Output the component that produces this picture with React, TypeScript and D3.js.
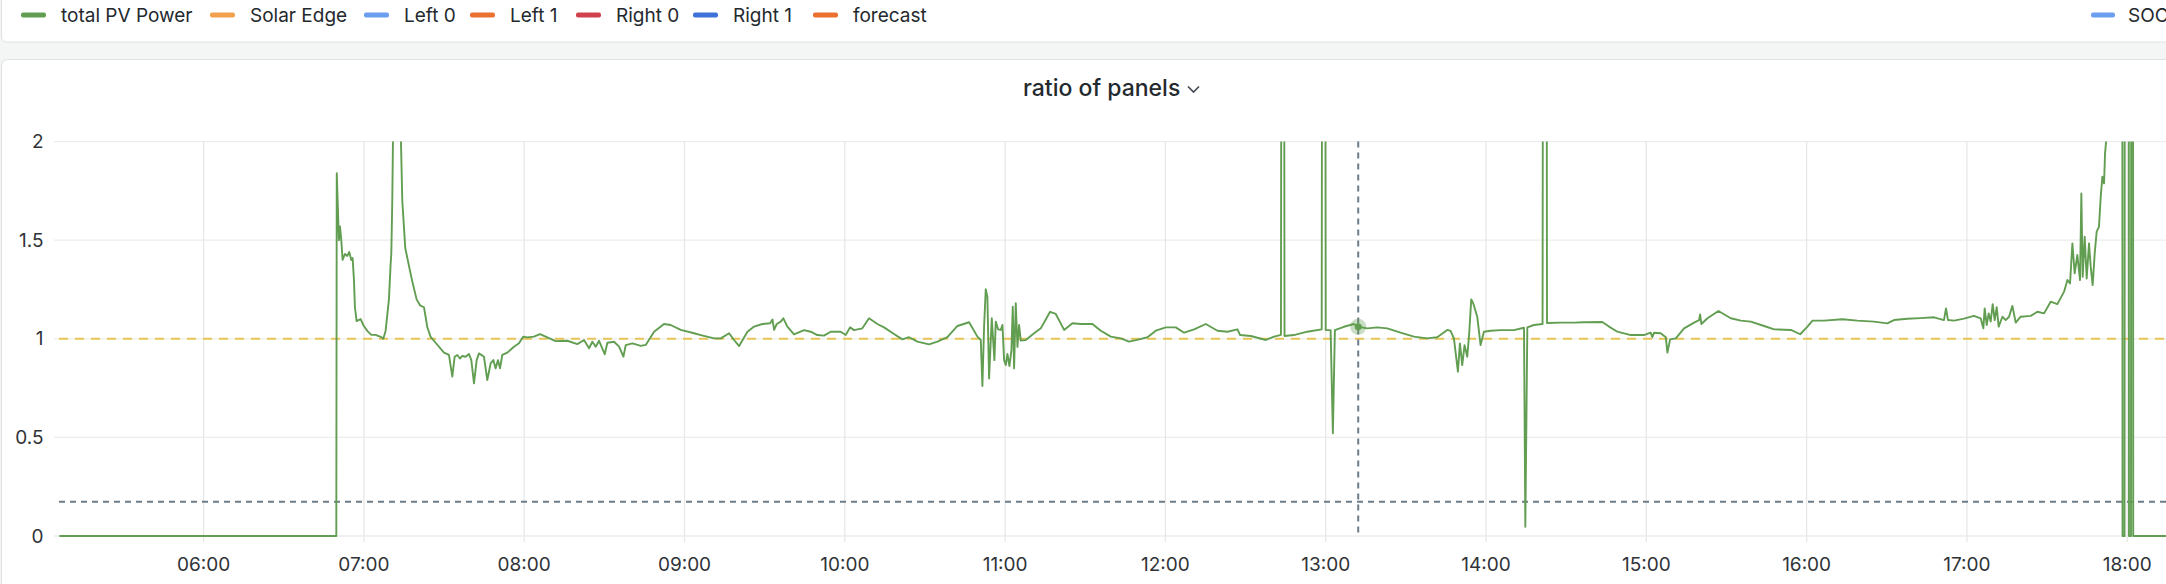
import { useMemo } from "react";
import * as d3 from "d3";

// legend of the dashboard row above the panel
const legendNames = ["total PV Power", "Solar Edge", "Left 0", "Left 1", "Right 0", "Right 1", "forecast"];
const legendColors = ["#629e51", "#f2a14f", "#6c9ef0", "#ea7231", "#d1414d", "#3f72d8", "#eb7030"];
const legendX = [21, 210, 364, 470, 576, 693, 813];
const socLegend = { name: "SOC", color: "#6c9ef0", x: 2091 };

const yTicks = [0, 0.5, 1, 1.5, 2];
const thresholds = [
  { value: 1, color: "#e8c457", dash: "9 7" },
  { value: 0.174, color: "#6c7c89", dash: "6 5" },
];
const hoverTime = "13:12:10";
const hoverValue = 1.061;

// total PV power ratio (panel left/right)
const ratioOfPanels: [string, number][] = [
  ["05:06:00", 0], ["06:49:40", 0], ["06:49:50", 1.84], ["06:50:39", 1.5], ["06:51:02", 1.57], ["06:51:32", 1.5],
  ["06:52:01", 1.4], ["06:52:54", 1.43], ["06:53:46", 1.42], ["06:54:31", 1.44], ["06:55:16", 1.4], ["06:55:46", 1.41],
  ["06:56:16", 1.3], ["06:56:38", 1.16], ["06:57:16", 1.09], ["06:58:46", 1.1], ["06:59:46", 1.07], ["07:01:16", 1.04],
  ["07:02:46", 1.02], ["07:04:23", 1.02], ["07:06:15", 1.01], ["07:07:15", 1.0], ["07:08:07", 1.04], ["07:09:22", 1.2],
  ["07:10:00", 1.38], ["07:10:15", 1.43], ["07:10:37", 1.7], ["07:10:52", 2.0], ["07:12:00", 2.8], ["07:13:52", 2.0],
  ["07:14:22", 1.7], ["07:15:29", 1.46], ["07:16:52", 1.37], ["07:18:07", 1.29], ["07:19:44", 1.2], ["07:20:59", 1.17],
  ["07:22:29", 1.16], ["07:23:43", 1.06], ["07:24:58", 1.01], ["07:26:50", 0.98], ["07:29:58", 0.93], ["07:31:50", 0.918],
  ["07:33:05", 0.808], ["07:33:58", 0.909], ["07:34:58", 0.918], ["07:35:57", 0.9], ["07:36:50", 0.913], ["07:38:05", 0.909],
  ["07:39:19", 0.923], ["07:40:12", 0.892], ["07:41:12", 0.774], ["07:42:12", 0.892], ["07:43:05", 0.926], ["07:44:56", 0.909],
  ["07:46:11", 0.791], ["07:47:26", 0.875], ["07:48:26", 0.892], ["07:49:18", 0.85], ["07:50:11", 0.892], ["07:50:56", 0.85],
  ["07:51:48", 0.918], ["07:53:40", 0.93], ["07:56:10", 0.96], ["07:58:02", 0.977], ["07:59:39", 1.011], ["08:01:09", 1.007],
  ["08:03:39", 1.011], ["08:05:54", 1.024], ["08:08:39", 1.007], ["08:11:46", 0.988], ["08:16:08", 0.99], ["08:19:53", 0.973],
  ["08:22:23", 0.994], ["08:24:16", 0.952], ["08:25:31", 0.985], ["08:26:46", 0.96], ["08:28:01", 0.99], ["08:30:08", 0.922],
  ["08:31:08", 0.98], ["08:33:38", 0.985], ["08:35:30", 0.96], ["08:37:08", 0.909], ["08:38:00", 0.968], ["08:40:30", 0.977],
  ["08:43:37", 0.964], ["08:45:29", 0.969], ["08:48:36", 1.036], ["08:52:20", 1.075], ["08:54:50", 1.07], ["08:58:35", 1.045],
  ["09:03:35", 1.028], ["09:06:05", 1.019], ["09:11:05", 1.002], ["09:13:34", 1.002], ["09:16:41", 1.028], ["09:18:33", 0.994],
  ["09:20:26", 0.963], ["09:23:33", 1.036], ["09:26:03", 1.062], ["09:29:10", 1.075], ["09:32:02", 1.079], ["09:32:55", 1.098],
  ["09:33:32", 1.045], ["09:34:31", 1.075], ["09:36:00", 1.087], ["09:37:00", 1.104], ["09:38:30", 1.062], ["09:41:00", 1.022],
  ["09:44:44", 1.044], ["09:47:14", 1.036], ["09:49:44", 1.019], ["09:52:13", 1.016], ["09:54:43", 1.036], ["09:58:28", 1.036],
  ["10:00:20", 1.019], ["10:01:58", 1.058], ["10:03:27", 1.044], ["10:06:34", 1.053], ["10:09:04", 1.104], ["10:12:11", 1.075],
  ["10:14:41", 1.058], ["10:18:25", 1.024], ["10:21:33", 0.997], ["10:24:02", 1.008], ["10:27:10", 0.986], ["10:31:32", 0.972],
  ["10:34:39", 0.986], ["10:38:24", 1.008], ["10:42:09", 1.065], ["10:46:31", 1.084], ["10:49:38", 1.011], ["10:50:53", 0.994],
  ["10:51:30", 0.761], ["10:52:08", 1.062], ["10:52:45", 1.251], ["10:53:22", 1.214], ["10:54:00", 0.799], ["10:55:00", 1.104],
  ["10:56:00", 0.892], ["10:56:30", 1.087], ["10:57:22", 1.048], ["10:58:22", 1.045], ["10:59:00", 1.07], ["10:59:37", 0.892],
  ["11:00:15", 0.867], ["11:00:52", 0.923], ["11:01:37", 0.862], ["11:02:22", 0.943], ["11:02:52", 1.163], ["11:03:22", 0.85],
  ["11:03:59", 1.18], ["11:04:37", 0.959], ["11:05:14", 1.07], ["11:05:52", 0.991], ["11:07:44", 0.994], ["11:10:51", 1.028],
  ["11:13:21", 1.053], ["11:16:50", 1.137], ["11:18:58", 1.126], ["11:22:05", 1.045], ["11:25:12", 1.079], ["11:28:19", 1.075],
  ["11:32:41", 1.075], ["11:35:49", 1.041], ["11:39:34", 1.011], ["11:43:18", 1.002], ["11:46:25", 0.986], ["11:50:10", 0.997],
  ["11:53:17", 1.008], ["11:56:24", 1.041], ["12:00:08", 1.058], ["12:03:53", 1.058], ["12:07:00", 1.031], ["12:10:45", 1.048],
  ["12:15:07", 1.075], ["12:19:29", 1.041], ["12:23:14", 1.036], ["12:26:58", 1.048], ["12:27:58", 1.019], ["12:31:58", 1.014],
  ["12:37:35", 0.994], ["12:40:42", 1.011], ["12:43:15", 1.02], ["12:43:25", 3], ["12:44:25", 3], ["12:44:35", 1.014],
  ["12:48:05", 1.019], ["12:53:05", 1.036], ["12:58:30", 1.048], ["12:58:40", 3], ["12:59:50", 3], ["13:00:00", 1.044],
  ["13:01:50", 1.044], ["13:02:41", 0.521], ["13:03:26", 1.044], ["13:06:48", 1.061], ["13:10:32", 1.075], ["13:12:10", 1.061],
  ["13:15:32", 1.053], ["13:19:17", 1.058], ["13:23:01", 1.053], ["13:28:01", 1.031], ["13:33:00", 1.011], ["13:38:00", 1.002],
  ["13:41:44", 1.008], ["13:45:29", 1.045], ["13:46:44", 1.04], ["13:47:59", 1.002], ["13:49:29", 0.833], ["13:50:14", 0.977],
  ["13:51:06", 0.867], ["13:51:58", 0.968], ["13:52:58", 0.909], ["13:53:43", 1.028], ["13:54:28", 1.2], ["13:55:13", 1.18],
  ["13:56:43", 1.112], ["13:57:58", 0.968], ["13:59:13", 1.036], ["14:01:43", 1.041], ["14:05:28", 1.044], ["14:10:28", 1.044],
  ["14:14:13", 1.056], ["14:14:43", 0.047], ["14:15:28", 1.058], ["14:17:55", 1.07], ["14:21:10", 1.075], ["14:21:20", 3],
  ["14:22:40", 3], ["14:22:50", 1.08], ["14:27:56", 1.082], ["14:32:55", 1.082], ["14:36:41", 1.084], ["14:43:32", 1.085],
  ["14:46:02", 1.062], ["14:49:10", 1.036], ["14:54:10", 1.019], ["14:59:07", 1.019], ["15:01:37", 1.031], ["15:02:16", 1.008],
  ["15:02:54", 1.031], ["15:05:24", 1.028], ["15:07:17", 1.008], ["15:07:54", 0.93], ["15:08:54", 0.997], ["15:11:01", 1.002],
  ["15:14:08", 1.053], ["15:17:53", 1.082], ["15:19:45", 1.095], ["15:20:08", 1.124], ["15:20:38", 1.075], ["15:22:53", 1.104],
  ["15:27:00", 1.141], ["15:31:37", 1.104], ["15:35:22", 1.092], ["15:39:07", 1.087], ["15:44:07", 1.065], ["15:47:52", 1.048],
  ["15:54:07", 1.045], ["15:57:35", 1.023], ["16:00:19", 1.062], ["16:02:12", 1.092], ["16:06:32", 1.092], ["16:13:24", 1.099],
  ["16:19:01", 1.092], ["16:25:12", 1.087], ["16:30:12", 1.078], ["16:32:42", 1.095], ["16:37:41", 1.102], ["16:42:41", 1.105],
  ["16:47:40", 1.109], ["16:51:25", 1.095], ["16:52:10", 1.154], ["16:52:55", 1.095], ["16:55:10", 1.092], ["16:58:55", 1.102],
  ["17:02:39", 1.116], ["17:05:09", 1.104], ["17:06:09", 1.053], ["17:06:39", 1.154], ["17:07:24", 1.07], ["17:08:09", 1.129],
  ["17:08:54", 1.087], ["17:09:39", 1.176], ["17:10:24", 1.095], ["17:11:09", 1.16], ["17:11:54", 1.062], ["17:13:17", 1.112],
  ["17:14:31", 1.095], ["17:15:46", 1.112], ["17:17:01", 1.167], ["17:18:16", 1.082], ["17:20:08", 1.112], ["17:23:53", 1.116],
  ["17:26:23", 1.137], ["17:28:52", 1.129], ["17:31:22", 1.188], ["17:33:52", 1.176], ["17:36:22", 1.239], ["17:37:37", 1.298],
  ["17:38:36", 1.281], ["17:39:29", 1.484], ["17:40:20", 1.332], ["17:41:20", 1.425], ["17:42:20", 1.298], ["17:42:50", 1.737],
  ["17:43:20", 1.315], ["17:44:05", 1.518], ["17:44:50", 1.306], ["17:45:42", 1.484], ["17:46:20", 1.366], ["17:47:04", 1.272],
  ["17:47:50", 1.433], ["17:48:34", 1.543], ["17:49:26", 1.568], ["17:50:05", 1.72], ["17:50:42", 1.822], ["17:51:20", 1.788],
  ["17:51:42", 1.94], ["17:52:06", 2.0], ["17:53:00", 2.4], ["17:58:10", 3], ["17:58:15", 0], ["17:59:00", 0],
  ["17:59:05", 3], ["18:00:35", 3], ["18:00:40", 0], ["18:01:25", 0], ["18:01:30", 3], ["18:02:10", 3],
  ["18:02:15", 0], ["18:20:00", 0],
];

const W = 2166;
const H = 584;
const plot = { left: 54, top: 141.6, bottom: 536 };
const pxPerHour = 160.3;
const font = "Inter, 'Noto Sans', sans-serif";

const parse = d3.timeParse("%H:%M:%S");

export default function App() {
  const x = useMemo(() => {
    const start = parse("05:04:00")!;
    const end = parse("18:38:00")!;
    const hours = (end.getTime() - start.getTime()) / 3.6e6;
    return d3.scaleTime().domain([start, end]).range([plot.left, plot.left + hours * pxPerHour]);
  }, []);
  const y = useMemo(() => d3.scaleLinear().domain([0, 2]).range([plot.bottom, plot.top]), []);

  const hourTicks = x.ticks(d3.timeHour.every(1)!).filter((t) => x(t) < W);
  const fmt = d3.timeFormat("%H:%M");

  const linePath = d3
    .line<[string, number]>()
    .x((d) => x(parse(d[0])!))
    .y((d) => y(d[1]))(ratioOfPanels);

  const hx = x(parse(hoverTime)!);
  const hy = y(hoverValue);

  return (
    <>
      <style>{"body{margin:0}"}</style>
      <svg width={W} height={H} style={{ display: "block", fontFamily: font }}>
        <rect width={W} height={H} fill="#f4f5f5" />

        {/* legend panel */}
        <rect x={1.5} y={-20} width={W + 20} height={62} rx={5} fill="#fff" stroke="#dfe2e3" />
        {legendNames.map((name, i) => (
          <g key={name}>
            <rect x={legendX[i]} y={12.5} width={25} height={5} rx={2} fill={legendColors[i]} />
            <text x={legendX[i] + 40} y={21.5} fontSize={19} fill="#24292e">
              {name}
            </text>
          </g>
        ))}
        <rect x={socLegend.x} y={12.5} width={24} height={5} rx={2} fill={socLegend.color} />
        <text x={socLegend.x + 37} y={21.5} fontSize={19} fill="#24292e">
          {socLegend.name}
        </text>

        {/* chart panel */}
        <rect x={1.5} y={59.5} width={W + 20} height={H} rx={6} fill="#fff" stroke="#dfe2e3" />
        <text x={1023} y={95.5} fontSize={23} fontWeight={500} fill="#24292e">
          ratio of panels
        </text>
        <path d="M1188,86.5 l5.5,5.5 l5.5,-5.5" fill="none" stroke="#464c54" strokeWidth={1.7} />

        <defs>
          <clipPath id="plot-clip">
            <rect x={plot.left} y={plot.top} width={W} height={plot.bottom - plot.top + 4} />
          </clipPath>
        </defs>

        {/* grid */}
        {yTicks.map((t) => (
          <line key={t} x1={plot.left} x2={W} y1={y(t)} y2={y(t)} stroke="#ededed" strokeWidth={1.3} />
        ))}
        {hourTicks.map((t) => (
          <line key={+t} x1={x(t)} x2={x(t)} y1={plot.top} y2={plot.bottom + 6} stroke="#e8e8e8" strokeWidth={1.3} />
        ))}

        {/* axes labels */}
        {yTicks.map((t) => (
          <text key={t} x={43.5} y={y(t)} textAnchor="end" dominantBaseline="central" fontSize={19} fill="#2f3338">
            {String(t)}
          </text>
        ))}
        {hourTicks.map((t) => (
          <text key={+t} x={x(t)} y={564} textAnchor="middle" dominantBaseline="central" fontSize={19} fill="#2f3338">
            {fmt(t)}
          </text>
        ))}

        {/* thresholds */}
        {thresholds.map((th) => (
          <line
            key={th.value}
            x1={plot.left + 5}
            x2={W}
            y1={y(th.value)}
            y2={y(th.value)}
            stroke={th.color}
            strokeWidth={2}
            strokeDasharray={th.dash}
          />
        ))}

        <g clipPath="url(#plot-clip)">
          <path d={linePath ?? ""} fill="none" stroke="#629e51" strokeWidth={1.9} strokeLinejoin="round" />
        </g>

        {/* crosshair + hovered point */}
        <line x1={hx} x2={hx} y1={plot.top} y2={plot.bottom} stroke="#6c7c89" strokeWidth={2} strokeDasharray="6 5" />
        <circle cx={hx} cy={hy} r={8} fill="#629e51" fillOpacity={0.35} />
        <circle cx={hx} cy={hy} r={3.5} fill="#629e51" />
      </svg>
    </>
  );
}
